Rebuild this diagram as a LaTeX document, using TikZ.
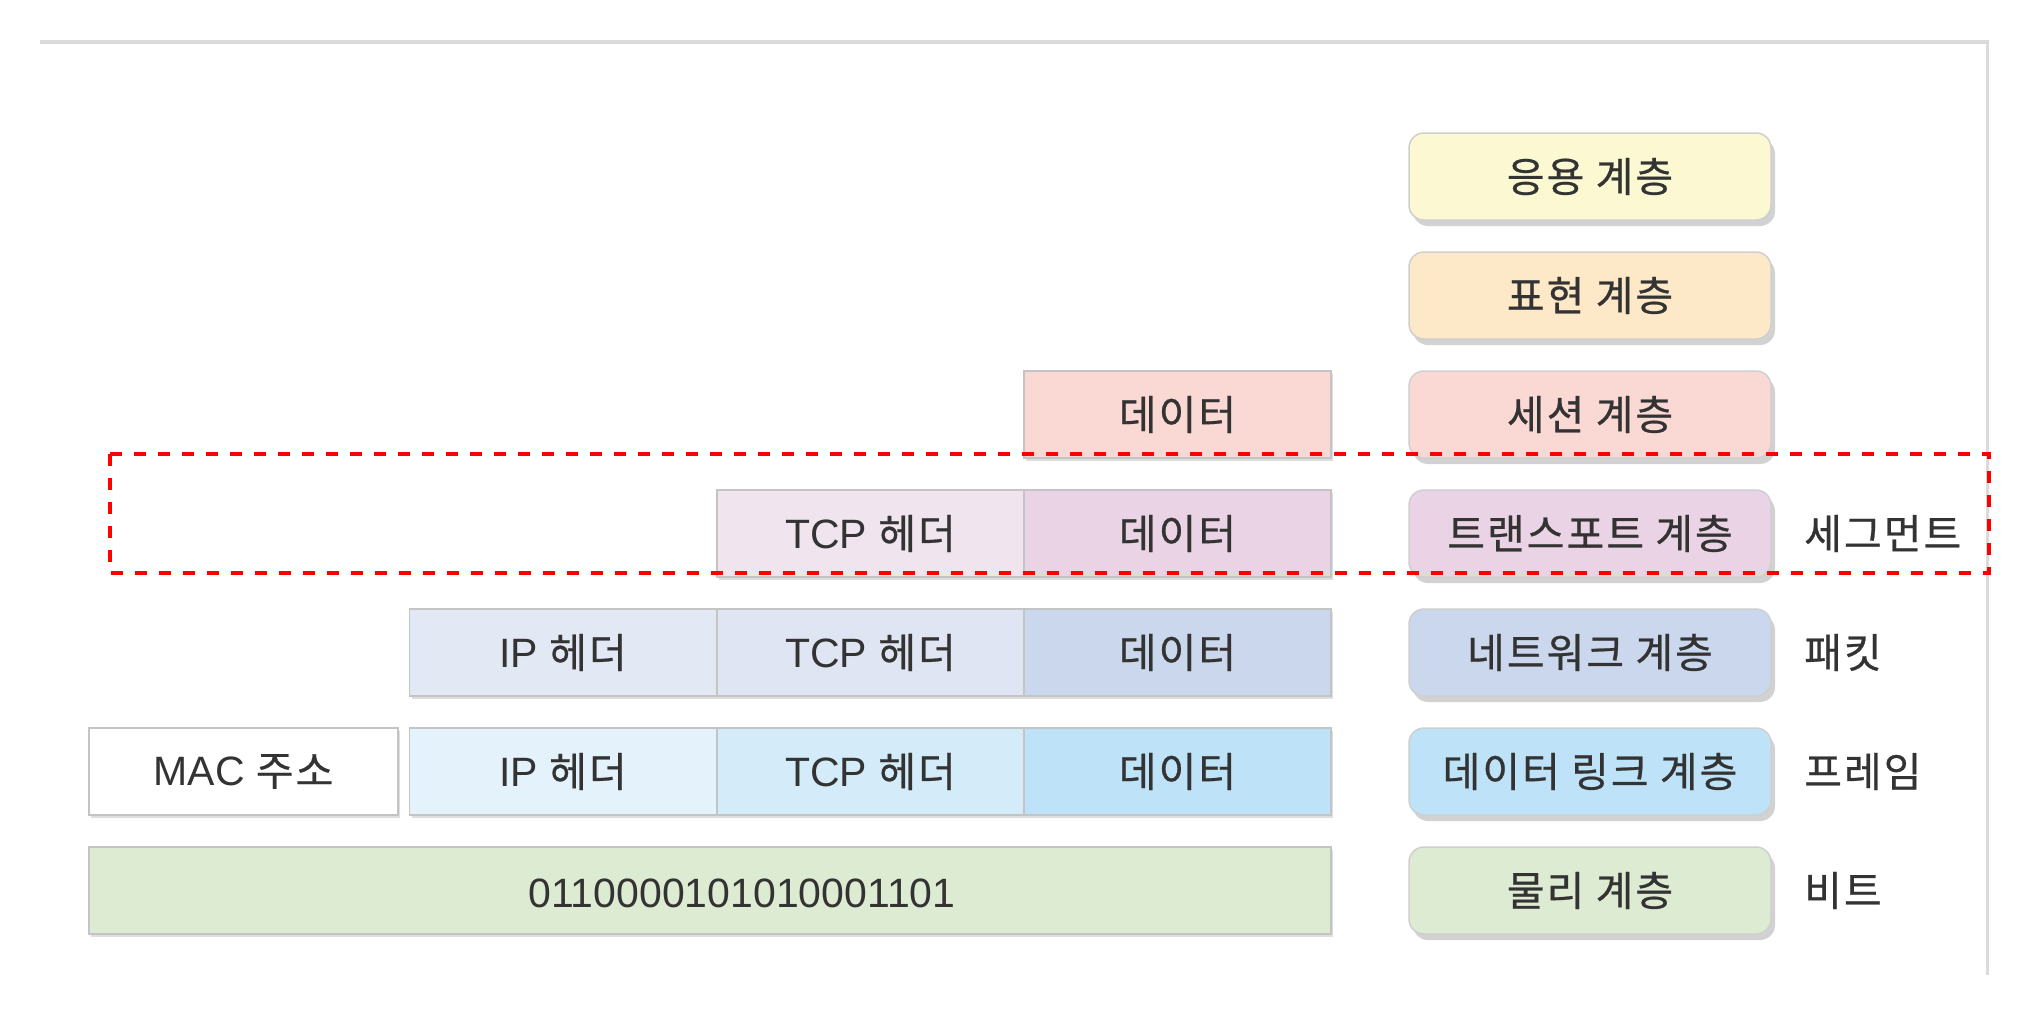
\documentclass[tikz,border=0pt]{standalone}
\usepackage{fontspec}
\setmainfont{Noto Sans CJK KR}[LetterSpace=5,FakeBold=0.6]
\newfontfamily\lat{Liberation Sans}
\usetikzlibrary{shadows}
\definecolor{txt}{HTML}{333333}
\definecolor{laybord}{HTML}{CFCFCF}
\definecolor{cellbord}{HTML}{C4C4C4}
\definecolor{frame}{HTML}{DADADA}
\definecolor{cApp}{HTML}{FCF9D2}
\definecolor{cPre}{HTML}{FDE9C7}
\definecolor{cSes}{HTML}{FAD9D4}
\definecolor{cTra}{HTML}{EAD3E4}
\definecolor{cTraH}{HTML}{F0E4EF}
\definecolor{cNet}{HTML}{CBD7EC}
\definecolor{cNetH}{HTML}{DFE5F3}
\definecolor{cNetI}{HTML}{E3E8F5}
\definecolor{cLnk}{HTML}{BEE2F7}
\definecolor{cLnkT}{HTML}{D4EBF9}
\definecolor{cLnkI}{HTML}{E4F2FB}
\definecolor{cPhy}{HTML}{DDEBD3}
\begin{document}
\begin{tikzpicture}[x=1pt,y=-1pt,
  layerbox/.style={draw=laybord, line width=1.5pt, rounded corners=15pt,
    minimum width=362pt, minimum height=87pt, inner sep=0pt, outer sep=0pt,
    text=txt, font=\fontsize{41}{46}\selectfont,
    drop shadow={shadow xshift=4pt, shadow yshift=-6pt, opacity=0.25, fill=black!70}},
  cell/.style={draw=cellbord, line width=1.5pt, minimum width=307pt,
    minimum height=87pt, inner sep=0pt, outer sep=0pt, text=txt,
    font=\fontsize{41}{46}\selectfont,
    drop shadow={shadow xshift=2pt, shadow yshift=-3pt, opacity=0.18, fill=black!70}},
  lbl/.style={anchor=west, inner sep=0pt, text=txt, font=\fontsize{41}{46}\selectfont}]
\useasboundingbox (0,0) rectangle (2032,1020);
\fill[white] (0,0) rectangle (2032,1020);
% frame
\draw[frame, line width=4pt] (40,42) -- (1987,42);
\draw[frame, line width=3pt] (1987,40) -- (1987,975);
% layer boxes
\node[layerbox, fill=cApp] (app) at (1590,176.5) {응용 계층};
\node[layerbox, fill=cPre] (pre) at (1590,295.5) {표현 계층};
\node[layerbox, fill=cSes] (ses) at (1590,414.5) {세션 계층};
\node[layerbox, fill=cTra] (tra) at (1590,533.5) {트랜스포트 계층};
\node[layerbox, fill=cNet] (net) at (1590,652.5) {네트워크 계층};
\node[layerbox, fill=cLnk] (lnk) at (1590,771.5) {데이터 링크 계층};
\node[layerbox, fill=cPhy] (phy) at (1590,890.5) {물리 계층};
% unit labels
\node[lbl] (seg) at (1804,533.5) {세그먼트};
\node[lbl] (pkt) at (1804,652.5) {패킷};
\node[lbl] (frm) at (1804,771.5) {프레임};
\node[lbl] (bit) at (1804,890.5) {비트};
% session row
\node[cell, fill=cSes] (sesD) at (1177.5,414.5) {데이터};
% transport row
\node[cell, fill=cTraH] (traT) at (870.5,533.5) {{\lat TCP} 헤더};
\node[cell, fill=cTra] (traD) at (1177.5,533.5) {데이터};
% network row
\node[cell, fill=cNetI] (netI) at (563,652.5) {{\lat IP} 헤더};
\node[cell, fill=cNetH] (netT) at (870.5,652.5) {{\lat TCP} 헤더};
\node[cell, fill=cNet] (netD) at (1177.5,652.5) {데이터};
% data link row
\node[cell, fill=white, minimum width=309pt] (lnkM) at (243.5,771.5) {{\lat MAC} 주소};
\node[cell, fill=cLnkI] (lnkI) at (563,771.5) {{\lat IP} 헤더};
\node[cell, fill=cLnkT] (lnkT) at (870.5,771.5) {{\lat TCP} 헤더};
\node[cell, fill=cLnk] (lnkD) at (1177.5,771.5) {데이터};
% physical row
\node[cell, fill=cPhy, minimum width=1242pt] (phyB) at (710,890.5) {};
\node[inner sep=0pt, text=txt, font=\lat\fontsize{41}{46}\selectfont] (bits) at (742,893) {0110000101010001101};
% highlight
\draw[red, line width=3.5pt, dash pattern=on 12pt off 12pt] (110,454) rectangle (1989,573);
\end{tikzpicture}
\end{document}
